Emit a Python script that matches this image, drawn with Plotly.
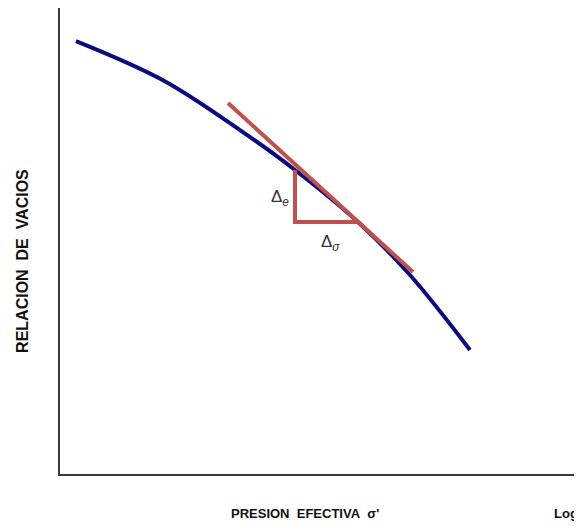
import plotly.graph_objects as go

# Virgin compression curve (sketch, relative units)
curve_x = [3.1, 20.0, 34.95, 45.63, 57.86, 67.96, 79.61]
curve_y = [92.9, 84.5, 73.8, 65.24, 54.08, 42.70, 26.61]

# Tangent line
tangent_x = [32.62, 68.54]
tangent_y = [79.61, 43.35]

# Slope triangle
tri_x = [45.63, 45.63, 57.86]
tri_y = [65.24, 54.08, 54.08]

x_range = [0, 100]
y_range = [0, 100]

y_title = "RELACION\u00a0\u00a0DE\u00a0\u00a0VACIOS"
x_title = "PRESION\u00a0\u00a0EFECTIVA\u00a0\u00a0σ'"
log_label = "Log"

blue = "#0b0b80"
red = "#c0504d"

fig = go.Figure()
fig.add_trace(go.Scatter(x=curve_x, y=curve_y, mode="lines",
                         line=dict(color=blue, width=4, shape="spline", smoothing=1.0),
                         hoverinfo="skip"))
fig.add_trace(go.Scatter(x=tangent_x, y=tangent_y, mode="lines",
                         line=dict(color=red, width=4), hoverinfo="skip"))
fig.add_trace(go.Scatter(x=tri_x, y=tri_y, mode="lines",
                         line=dict(color=red, width=4), hoverinfo="skip"))

lab_font = dict(family="Liberation Sans, Arial, sans-serif", size=17, color="#333333")
fig.add_annotation(x=tri_x[0], y=(tri_y[0] + tri_y[1]) / 2, xref="x", yref="y",
                   text="Δ<sub><i>e</i></sub>", showarrow=False, xanchor="right",
                   yanchor="middle", xshift=-4, yshift=-2, font=lab_font)
fig.add_annotation(x=(tri_x[1] + tri_x[2]) / 2, y=tri_y[1], xref="x", yref="y",
                   text="Δ<sub><i>σ</i></sub>", showarrow=False, xanchor="center",
                   yanchor="top", xshift=4, yshift=-8, font=lab_font)

title_font = dict(family="Liberation Sans, Arial, sans-serif", size=13, color="#111111")
fig.add_annotation(x=0.476, y=-0.084, xref="paper", yref="paper",
                   text="<b>" + x_title + "</b>", showarrow=False,
                   xanchor="center", yanchor="middle", font=title_font)
fig.add_annotation(x=-0.074, y=0.457, xref="paper", yref="paper",
                   text="<b>" + y_title + "</b>", showarrow=False, textangle=-90,
                   xanchor="center", yanchor="middle",
                   font=dict(family="Liberation Sans, Arial, sans-serif", size=16, color="#111111"))
fig.add_annotation(x=0.955, y=-0.084, xref="paper", yref="paper",
                   text="<b>" + log_label + "</b>", showarrow=False,
                   xanchor="left", yanchor="middle",
                   font=dict(family="Liberation Sans, Arial, sans-serif", size=13, color="#111111"))

axis_common = dict(showgrid=False, zeroline=False, showticklabels=False, ticks="",
                   showline=True, linecolor="#3a3a3a", linewidth=2, fixedrange=True)
fig.update_xaxes(range=x_range, **axis_common)
fig.update_yaxes(range=y_range, **axis_common)

# page body has an 8px margin, so the figure is offset by (8, 8)
fig.update_layout(width=574, height=519, showlegend=False,
                  margin=dict(l=52, r=7, t=0, b=53),
                  plot_bgcolor="white", paper_bgcolor="white")

fig.write_html("out.html")
